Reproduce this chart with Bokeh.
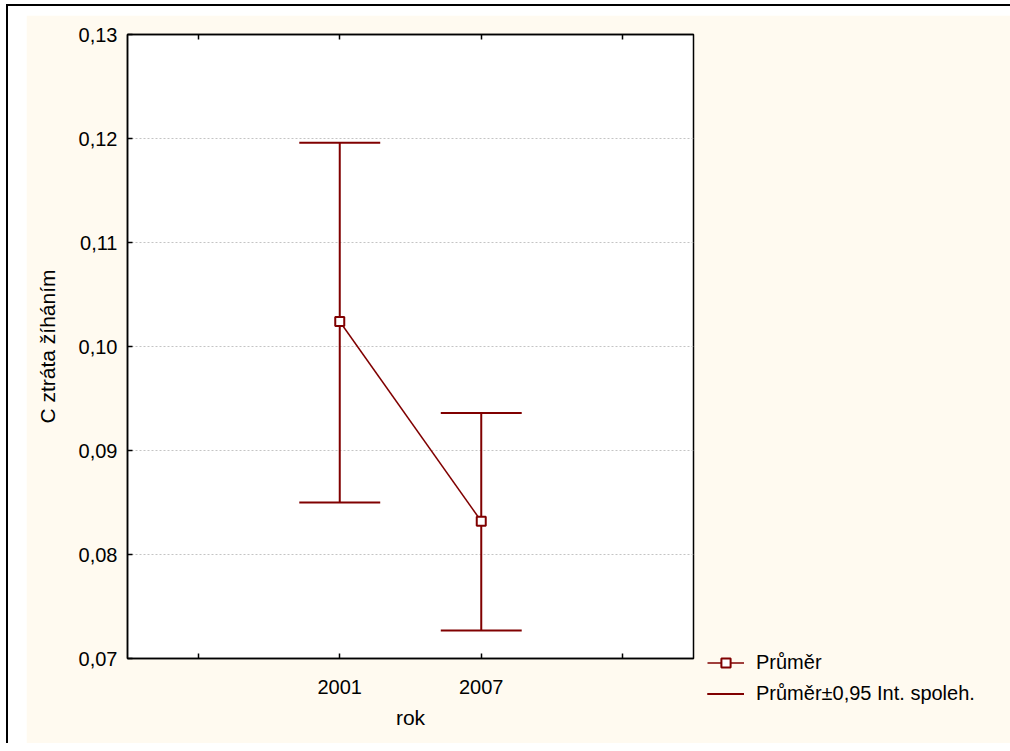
from bokeh.plotting import figure
from bokeh.layouts import column
from bokeh.models import (Range1d, FixedTicker, CustomJSTickFormatter, LinearAxis,
                          Legend, LegendItem, Grid)
from bokeh.embed import file_html
from bokeh.resources import INLINE

# ---- data ----
years = ["2001", "2007"]
means = [0.1024, 0.0832]
ci_low = [0.0850, 0.0727]
ci_high = [0.1196, 0.0936]
y_ticks = [0.07, 0.08, 0.09, 0.10, 0.11, 0.12, 0.13]

x_pos = [i + 1.5 for i in range(len(years))]
x_ticks = [x_pos[0] - 1.0] + x_pos + [x_pos[-1] + 1.0]
cap_half = 0.286

FONT = "Liberation Sans"
RED = "#800000"
BEIGE = "#FFFAF0"

# beige panel (page coords): x 27..999, y 16..744 ; plot frame: x 128..694, y 35..659
PX, PY, PW, PH = 27, 16, 972, 728
FL, FT, FR, FB = 128 - PX, 35 - PY, 694 - PX, 659 - PY

p = figure(frame_width=FR - FL, frame_height=FB - FT,
           min_border_left=FL, min_border_right=PW - FR,
           min_border_top=FT, min_border_bottom=PH - FB,
           x_range=Range1d(0, 4), y_range=Range1d(0.07, 0.13),
           output_backend="svg", toolbar_location=None,
           x_axis_location=None, y_axis_location=None, title=None)
p.center = [r for r in p.center if not isinstance(r, Grid)]
p.border_fill_color = BEIGE
p.background_fill_color = "white"
p.outline_line_color = "black"
p.outline_line_width = 1.5

yt = FixedTicker(ticks=y_ticks)
xt = FixedTicker(ticks=x_ticks)
yfmt = CustomJSTickFormatter(code="return tick.toFixed(2).replace('.', ',');")
xfmt = CustomJSTickFormatter(args=dict(pos=x_pos, labels=years),
                             code="const i = pos.findIndex(v => Math.abs(v - tick) < 1e-9); return i >= 0 ? labels[i] : '';")
blank = CustomJSTickFormatter(code="return '';")


def style(ax):
    ax.axis_line_color = "black"
    ax.axis_line_width = 1.5
    ax.major_tick_in = 5
    ax.major_tick_out = 0
    ax.major_tick_line_color = "black"
    ax.major_tick_line_width = 1.5
    ax.minor_tick_line_color = None
    ax.major_label_text_font = FONT
    ax.major_label_text_font_size = "20px"
    ax.major_label_text_color = "black"
    ax.axis_label_text_font = FONT
    ax.axis_label_text_font_size = "21px"
    ax.axis_label_text_font_style = "normal"
    ax.axis_label_text_color = "black"


left = LinearAxis(ticker=yt, formatter=yfmt, axis_label="C ztráta žíháním")
style(left)
left.major_label_standoff = 10
left.axis_label_standoff = 17
p.add_layout(left, "left")

bottom = LinearAxis(ticker=xt, formatter=xfmt, axis_label="rok")
style(bottom)
bottom.major_label_standoff = 21
bottom.axis_label_standoff = 9
p.add_layout(bottom, "below")

top = LinearAxis(ticker=xt, formatter=blank)
style(top)
top.major_label_standoff = 0
top.major_label_text_font_size = "0px"
p.add_layout(top, "above")

grid = Grid(dimension=1, ticker=yt, grid_line_color="#C4C4C4", grid_line_dash="2 2", grid_line_width=1)
p.add_layout(grid)

# ---- marks ----
vseg = p.segment(x0=x_pos, y0=ci_low, x1=x_pos, y1=ci_high, line_color=RED, line_width=2)
cap_x0 = [x - cap_half for x in x_pos] * 2
cap_x1 = [x + cap_half for x in x_pos] * 2
cap_y = ci_high + ci_low
caps = p.segment(x0=cap_x0, y0=cap_y, x1=cap_x1, y1=cap_y, line_color=RED, line_width=2)
mline = p.line(x_pos, means, line_color=RED, line_width=1.5)
msq = p.scatter(x_pos, means, marker="square", size=9, fill_color="white",
                line_color=RED, line_width=2)

legend = Legend(items=[LegendItem(label="Průměr", renderers=[mline, msq]),
                       LegendItem(label="Průměr±0,95 Int. spoleh.", renderers=[vseg, caps])],
                location=(14, -47), orientation="vertical",
                background_fill_alpha=0, border_line_color=None,
                label_text_font=FONT, label_text_font_size="20px", label_text_color="black",
                glyph_width=37, glyph_height=23, label_height=23, label_standoff=12,
                spacing=8, padding=0, margin=0)
p.add_layout(legend, "right")

p.margin = (9, 0, 0, 18)
page = column(p, margin=(4, 0, 0, 6),
              styles={"border-left": "2px solid black", "border-top": "2px solid black",
                      "background-color": "white"})

open("out.html", "w").write(file_html(page, INLINE, title="chart"))
